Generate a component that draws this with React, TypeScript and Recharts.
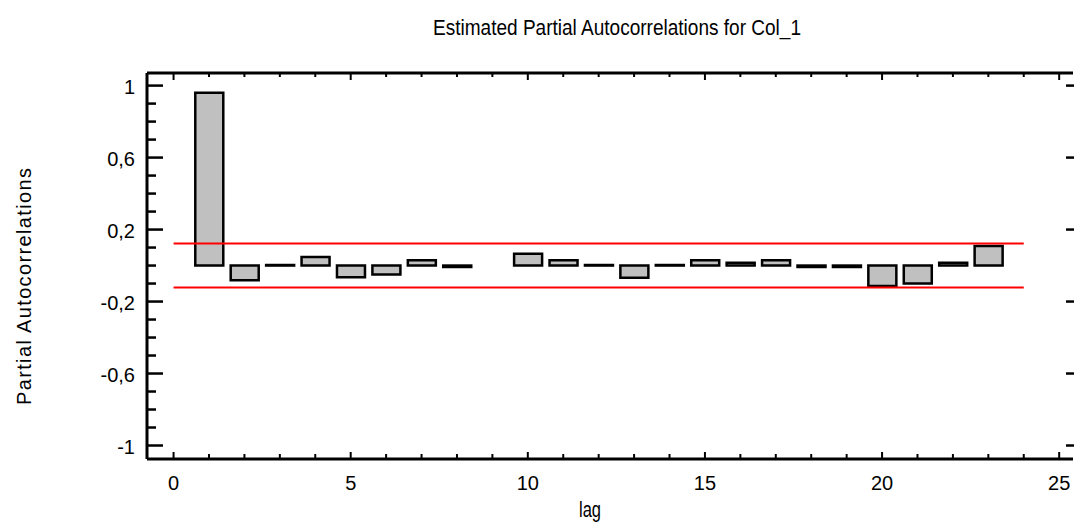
import { Bar, ComposedChart, ReferenceLine, XAxis, YAxis } from "recharts";

const lags = [1, 2, 3, 4, 5, 6, 7, 8, 9, 10, 11, 12, 13, 14, 15, 16, 17, 18, 19, 20, 21, 22, 23];
const pacf = [
  0.96, -0.082, 0.003, 0.047, -0.065, -0.05, 0.03, -0.008, 0, 0.065, 0.03, 0.003,
  -0.068, 0.003, 0.03, 0.015, 0.03, -0.008, -0.008, -0.113, -0.1, 0.015, 0.108,
];
const xTicks = [0, 1, 2, 3, 4, 5, 6, 7, 8, 9, 10, 11, 12, 13, 14, 15, 16, 17, 18, 19, 20, 21, 22, 23, 24, 25];
const xMajor = [0, 5, 10, 15, 20, 25];
const yTicks = [
  -1, -0.9, -0.8, -0.7, -0.6, -0.5, -0.4, -0.3, -0.2, -0.1, 0, 0.1, 0.2, 0.3, 0.4, 0.5, 0.6, 0.7,
  0.8, 0.9, 1,
];
const yMajor = [1, 0.6, 0.2, -0.2, -0.6, -1];
const limitLags = [0, 24];
const limit = 0.122;

const data = lags.map((lag, i) => ({ lag, pacf: pacf[i] }));

const FONT = "'Liberation Sans', Arial, sans-serif";
const W = 1074;
const H = 527;
const TICK_GAP = 12;
const X_DOMAIN = [-0.75, 25.39];
const Y_DOMAIN = [-1.075, 1.07];

const isMajor = (list: number[], v: number) => list.some((m) => Math.abs(m - v) < 1e-6);
const fmtY = (v: number) => String(Math.round(v * 10) / 10).replace(".", ",");

// left axis: ticks point inward, labels outside
function LeftTick({ x, y, payload }: any) {
  const major = isMajor(yMajor, payload.value);
  const ax = x + TICK_GAP;
  return (
    <g>
      <line x1={ax} x2={ax + (major ? 16 : 9)} y1={y} y2={y} stroke="#000" strokeWidth={2.5} />
      {major && (
        <text x={x} y={y} dy="0.4em" textAnchor="end" fontFamily={FONT} fontSize={20} fill="#000">
          {fmtY(payload.value)}
        </text>
      )}
    </g>
  );
}

function RightTick({ x, y, payload }: any) {
  if (!isMajor(yMajor, payload.value)) return null;
  return <line x1={x - 7} x2={x + 1} y1={y} y2={y} stroke="#000" strokeWidth={2.5} />;
}

function BottomTick({ x, y, payload }: any) {
  const major = isMajor(xMajor, payload.value);
  const ay = y - TICK_GAP;
  return (
    <g>
      <line x1={x} x2={x} y1={ay} y2={ay - (major ? 7 : 5)} stroke="#000" strokeWidth={2} />
      {major && (
        <text x={x} y={y} dy="0.95em" textAnchor="middle" fontFamily={FONT} fontSize={20} fill="#000">
          {payload.value}
        </text>
      )}
    </g>
  );
}

function TopTick({ x, y, payload }: any) {
  const major = isMajor(xMajor, payload.value);
  return <line x1={x} x2={x} y1={y} y2={y + (major ? 7 : 4)} stroke="#000" strokeWidth={2} />;
}

export default function App() {
  return (
    <div style={{ position: "absolute", left: 0, top: 0, width: W, height: H, background: "#fff" }}>
      <ComposedChart width={W} height={H} data={data} margin={{ top: 72, right: 0, bottom: 0, left: 0 }}>
        <XAxis
          dataKey="lag"
          type="number"
          domain={X_DOMAIN}
          allowDataOverflow
          ticks={xTicks}
          interval={0}
          height={68}
          tickSize={0}
          tickMargin={TICK_GAP}
          tick={<BottomTick />}
          axisLine={{ stroke: "#000", strokeWidth: 3 }}
        />
        <XAxis
          xAxisId="top"
          orientation="top"
          dataKey="lag"
          type="number"
          domain={X_DOMAIN}
          allowDataOverflow
          ticks={xTicks}
          interval={0}
          height={1}
          tickSize={0}
          tickMargin={0}
          tick={<TopTick />}
          axisLine={{ stroke: "#000", strokeWidth: 3 }}
        />
        <YAxis
          type="number"
          domain={Y_DOMAIN}
          allowDataOverflow
          ticks={yTicks}
          interval={0}
          width={147}
          tickSize={0}
          tickMargin={TICK_GAP}
          tick={<LeftTick />}
          axisLine={{ stroke: "#000", strokeWidth: 3 }}
        />
        <YAxis
          yAxisId="right"
          orientation="right"
          type="number"
          domain={Y_DOMAIN}
          allowDataOverflow
          ticks={yTicks}
          interval={0}
          width={1}
          tickSize={0}
          tickMargin={0}
          tick={<RightTick />}
          axisLine={false}
        />
        <Bar
          dataKey="pacf"
          barSize={28}
          fill="#c0c0c0"
          stroke="#000"
          strokeWidth={2.5}
          isAnimationActive={false}
        />
        <ReferenceLine
          segment={[
            { x: limitLags[0], y: limit },
            { x: limitLags[1], y: limit },
          ]}
          stroke="#ff0000"
          strokeWidth={2}
        />
        <ReferenceLine
          segment={[
            { x: limitLags[0], y: -limit },
            { x: limitLags[1], y: -limit },
          ]}
          stroke="#ff0000"
          strokeWidth={2}
        />
      </ComposedChart>
      <svg
        width={W}
        height={H}
        style={{ position: "absolute", left: 0, top: 0, pointerEvents: "none" }}
      >
        <text
          x={433}
          y={35}
          fontFamily={FONT}
          fontSize={22}
          textLength={368}
          lengthAdjust="spacingAndGlyphs"
          fill="#000"
        >
          Estimated Partial Autocorrelations for Col_1
        </text>
        <text
          x={579}
          y={517}
          fontFamily={FONT}
          fontSize={22}
          textLength={22}
          lengthAdjust="spacingAndGlyphs"
          fill="#000"
        >
          lag
        </text>
        <text
          transform="translate(31, 405) rotate(-90)"
          x={0}
          y={0}
          fontFamily={FONT}
          fontSize={20}
          textLength={237}
          lengthAdjust="spacing"
          fill="#000"
        >
          Partial Autocorrelations
        </text>
      </svg>
    </div>
  );
}
